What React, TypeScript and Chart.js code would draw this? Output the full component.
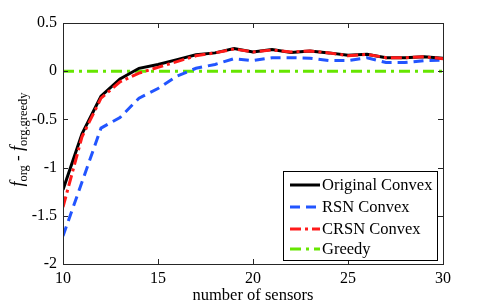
import React, { useEffect, useRef } from "react";
import { Chart, registerables } from "chart.js";

Chart.register(...registerables);

const sensors = [10, 11, 12, 13, 14, 15, 16, 17, 18, 19, 20, 21, 22, 23, 24, 25, 26, 27, 28, 29, 30];
const originalConvex = [-1.23, -0.65, -0.26, -0.08, 0.03, 0.07, 0.12, 0.17, 0.19, 0.235, 0.2, 0.225, 0.195, 0.21, 0.19, 0.165, 0.175, 0.14, 0.14, 0.15, 0.135];
const rsnConvex = [-1.71, -1.15, -0.59, -0.48, -0.28, -0.18, -0.05, 0.03, 0.07, 0.13, 0.11, 0.14, 0.14, 0.135, 0.11, 0.11, 0.14, 0.09, 0.09, 0.11, 0.115];
const crsnConvex = [-1.41, -0.68, -0.28, -0.11, -0.02, 0.04, 0.1, 0.16, 0.19, 0.23, 0.2, 0.22, 0.2, 0.21, 0.19, 0.16, 0.175, 0.14, 0.14, 0.15, 0.13];
const greedy = [0, 0, 0, 0, 0, 0, 0, 0, 0, 0, 0, 0, 0, 0, 0, 0, 0, 0, 0, 0, 0];
const xTicks = [10, 15, 20, 25, 30];
const yTicks = [-2, -1.5, -1, -0.5, 0, 0.5];

const FONT = "'Liberation Serif', 'Times New Roman', serif";

const seriesDefs = [
  { label: "Original Convex", data: originalConvex, color: "#000000", dash: [] as number[], order: 1 },
  { label: "RSN Convex", data: rsnConvex, color: "#2255ff", dash: [10, 6], order: 2 },
  { label: "CRSN Convex", data: crsnConvex, color: "#ff1a1a", dash: [11, 4, 3, 4], order: 0 },
  { label: "Greedy", data: greedy, color: "#66e600", dash: [11, 5, 3, 5], order: 3 },
];

const framePlugin = {
  id: "frame",
  afterDraw(chart: any) {
    const { ctx, chartArea, scales } = chart;
    const { left, right, top, bottom } = chartArea;
    ctx.save();
    ctx.strokeStyle = "#262626";
    ctx.lineWidth = 1;
    ctx.setLineDash([]);
    ctx.strokeRect(left + 0.5, top + 0.5, right - left, bottom - top);
    const tl = 5;
    ctx.beginPath();
    xTicks.forEach((v) => {
      const x = Math.round(scales.x.getPixelForValue(v)) + 0.5;
      ctx.moveTo(x, bottom);
      ctx.lineTo(x, bottom - tl);
      ctx.moveTo(x, top);
      ctx.lineTo(x, top + tl);
    });
    yTicks.forEach((v) => {
      const y = Math.round(scales.y.getPixelForValue(v)) + 0.5;
      ctx.moveTo(left, y);
      ctx.lineTo(left + tl, y);
      ctx.moveTo(right, y);
      ctx.lineTo(right - tl, y);
    });
    ctx.stroke();

    ctx.fillStyle = "#000";
    ctx.font = `16.5px ${FONT}`;
    ctx.textAlign = "center";
    ctx.textBaseline = "alphabetic";
    ctx.fillText("number of sensors", (left + right) / 2, 300);

    const parts = [
      { t: "f", font: `italic 18px ${FONT}`, sub: false },
      { t: "org", font: `12.5px ${FONT}`, sub: true },
      { t: " - ", font: `17px ${FONT}`, sub: false },
      { t: "f", font: `italic 18px ${FONT}`, sub: false },
      { t: "org.greedy", font: `12.5px ${FONT}`, sub: true },
    ];
    let total = 0;
    parts.forEach((p) => {
      ctx.font = p.font;
      total += ctx.measureText(p.t).width;
    });
    ctx.save();
    ctx.translate(23, (top + bottom) / 2 - 4);
    ctx.rotate(-Math.PI / 2);
    ctx.textAlign = "left";
    let cx = -total / 2;
    parts.forEach((p) => {
      ctx.font = p.font;
      ctx.fillText(p.t, cx, p.sub ? 4 : 0);
      cx += ctx.measureText(p.t).width;
    });
    ctx.restore();

    const lx = 283.5, ly = 171.5, lw = 154, lh = 89;
    ctx.fillStyle = "#fff";
    ctx.fillRect(lx, ly, lw, lh);
    ctx.strokeStyle = "#000";
    ctx.lineWidth = 1;
    ctx.strokeRect(lx, ly, lw, lh);
    const rows = [185, 207, 229, 249];
    seriesDefs.forEach((s, i) => {
      const y = rows[i];
      ctx.strokeStyle = s.color;
      ctx.lineWidth = 3;
      ctx.setLineDash(s.dash);
      ctx.beginPath();
      ctx.moveTo(290, y);
      ctx.lineTo(320, y);
      ctx.stroke();
      ctx.setLineDash([]);
      ctx.fillStyle = "#000";
      ctx.font = `16.5px ${FONT}`;
      ctx.textAlign = "left";
      ctx.textBaseline = "middle";
      ctx.fillText(s.label, 322, y + 1);
    });
    ctx.restore();
  },
};

export default function App() {
  const ref = useRef<HTMLCanvasElement | null>(null);
  useEffect(() => {
    if (!ref.current) return;
    const chart = new Chart(ref.current, {
      type: "line",
      data: {
        datasets: seriesDefs.map((s) => ({
          label: s.label,
          data: sensors.map((x, i) => ({ x, y: s.data[i] })),
          borderColor: s.color,
          backgroundColor: s.color,
          borderDash: s.dash,
          borderWidth: 3,
          pointRadius: 0,
          tension: 0,
          fill: false,
          order: s.order,
        })),
      },
      options: {
        responsive: false,
        animation: false,
        devicePixelRatio: 1,
        layout: { padding: { left: 0, top: 23, right: 47, bottom: 0 } },
        plugins: { legend: { display: false }, tooltip: { enabled: false } },
        scales: {
          x: {
            type: "linear",
            min: 10,
            max: 30,
            afterFit: (s: any) => { s.height = 43; },
            afterBuildTicks: (s: any) => { s.ticks = xTicks.map((v) => ({ value: v })); },
            grid: { display: false, drawTicks: false },
            border: { display: false },
            ticks: { padding: 5, color: "#000", font: { family: FONT, size: 16 }, maxRotation: 0, callback: (v: any) => String(v) },
          },
          y: {
            type: "linear",
            min: -2,
            max: 0.5,
            afterFit: (s: any) => { s.width = 63; },
            afterBuildTicks: (s: any) => { s.ticks = yTicks.map((v) => ({ value: v })); },
            grid: { display: false, drawTicks: false },
            border: { display: false },
            ticks: { padding: 6, color: "#000", font: { family: FONT, size: 16 }, callback: (v: any) => String(v) },
          },
        },
      },
      plugins: [framePlugin],
    });
    return () => chart.destroy();
  }, []);
  return (
    <div style={{ position: "fixed", left: 0, top: 0, width: 490, height: 307, background: "#fff" }}>
      <canvas ref={ref} width={490} height={307} style={{ width: 490, height: 307 }} />
    </div>
  );
}
